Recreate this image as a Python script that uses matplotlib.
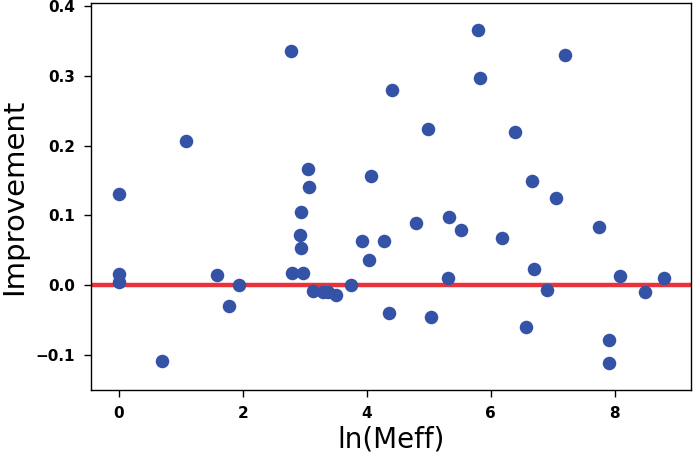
import matplotlib
matplotlib.use("Agg")
import matplotlib.pyplot as plt

ln_meff = [0.0, 0.0, 0.0, 0.69, 1.08, 1.59, 1.78, 1.94, 2.77, 2.79, 2.97,
           2.93, 2.92, 2.94, 3.05, 3.07, 3.13, 3.30, 3.38, 3.50, 3.74, 3.92,
           4.03, 4.06, 4.27, 4.35, 4.40, 4.79, 4.99, 5.03, 5.31, 5.32, 5.52,
           5.79, 5.82, 6.18, 6.39, 6.56, 6.67, 6.69, 6.90, 7.05, 7.19, 7.74,
           7.90, 7.90, 8.09, 8.48, 8.79]
improvement = [0.131, 0.016, 0.004, -0.109, 0.206, 0.014, -0.030, 0.001, 0.336,
               0.018, 0.018, 0.105, 0.072, 0.053, 0.167, 0.140, -0.008, -0.009,
               -0.010, -0.014, 0.001, 0.063, 0.036, 0.157, 0.063, -0.040, 0.280,
               0.089, 0.224, -0.046, 0.011, 0.097, 0.079, 0.366, 0.297, 0.068,
               0.220, -0.060, 0.149, 0.023, -0.007, 0.125, 0.329, 0.084, -0.079,
               -0.111, 0.013, -0.010, 0.011]

fig = plt.figure(figsize=(6.94, 4.54), dpi=100)
ax = fig.add_axes([91/694, 1-390/454, 600/694, 387/454])

ax.scatter(ln_meff, improvement, s=95, color="#3452a6", zorder=3, linewidths=0)
ax.axhline(0, color="#e8323c", linewidth=3.2, zorder=2)

ax.set_xlim(-0.45, 9.23)
ax.set_ylim(-0.15, 0.404)
ax.set_xticks([0, 2, 4, 6, 8])
ax.set_yticks([-0.1, 0.0, 0.1, 0.2, 0.3, 0.4])
ax.set_yticklabels(["\u22120.1", "0.0", "0.1", "0.2", "0.3", "0.4"])
ax.tick_params(axis="both", labelsize=11, length=5, width=1, pad=6.5)
for lab in ax.get_xticklabels() + ax.get_yticklabels():
    lab.set_fontweight("bold")
ax.set_xlabel("ln(Meff)", fontsize=20, labelpad=3)
ax.set_ylabel("Improvement", fontsize=21, labelpad=5)
for sp in ax.spines.values():
    sp.set_linewidth(1.0)

fig.savefig("out.png", dpi=100)
